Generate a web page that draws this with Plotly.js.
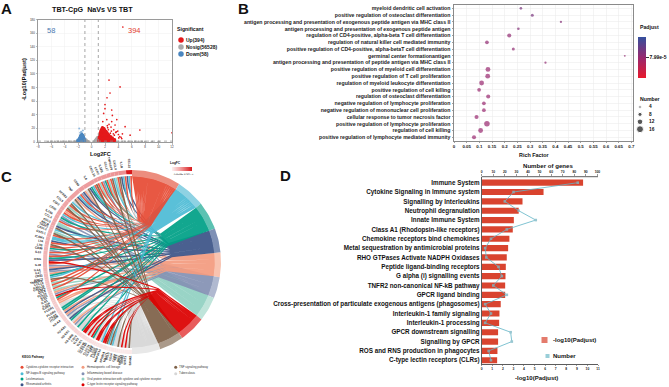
<!DOCTYPE html>
<html><head><meta charset="utf-8">
<script src="https://cdn.plot.ly/plotly-3.0.1.min.js"></script>
<style>html,body{margin:0;padding:0;background:#fff}#c{width:669px;height:387px}</style></head>
<body><div id="c"></div>
<script>
// ---------- Panel A data ----------
const upX=[1.05,1.2,1.35,1.5,1.7,1.85,2.05,2.2,2.4,2.6,2.8,3.0,3.2,3.45,1.1,1.25,1.4,1.6,1.75,1.95,2.1,2.3,2.5,2.7,2.95,3.15,3.4,1.1,1.3,1.45,1.65,1.8,2.0,2.2,2.35,2.55,2.8,3.05,1.15,1.35,1.5,1.7,1.85,2.05,2.25,2.45,2.7,2.9,1.2,1.4,1.55,1.75,1.95,2.15,2.4,2.6,1.25,1.45,1.6,1.8,2.0,2.25,2.45,1.3,1.5,1.65,1.85,2.1,2.3,1.35,1.5,1.7,1.9,2.15,1.45,1.6,1.8,1.95,1.55,1.65,1.85,1.62];
const upY=[1.7,2.2,1.5,2.1,1.6,2.4,1.8,2.2,1.5,2.3,1.7,2.0,1.6,1.9,3.8,4.2,3.5,4.4,3.9,4.1,3.6,4.3,3.8,4.1,3.6,4.2,3.7,5.8,6.3,5.6,6.1,5.9,6.4,5.7,6.2,5.9,6.0,5.6,8.1,7.8,8.4,7.9,8.3,7.7,8.2,7.9,8.1,7.7,10.2,9.8,10.4,10.0,9.7,10.3,9.9,10.1,12.1,11.8,12.4,12.0,11.7,12.2,11.9,14.2,13.8,14.3,14.0,13.9,14.1,16.1,15.8,16.3,15.9,16.0,18.1,17.8,18.2,17.9,19.6,20.4,19.8,21.5];
const upOutX=[2.6,4.25,2.75,2.3,2.0,2.0,3.0,1.8,3.1,2.27,3.76,3.0,1.67,3.5,5.0,7.2,5.75,4.5,4.66,3.3,3.6,2.6,2.9,3.9,4.2,4.6,3.2,2.5,4.0,3.4,2.8,3.7,2.4,3.1,4.4,3.55,2.95,3.25,2.35,4.05,12];
const upOutY=[91,81,72,65,55,49,47,42,39,33,33,30,30,25,22.5,17.6,10,5,169,18,14,26,22,16,8,12,7,18,11,10,13,15,21,5,7,4,16,12,24,6,13.6];
const nsX=[-6.5,-6,-5.5,-5,-4.6,-4.2,-3.8,-3.4,-3,-2.6,-2.3,-2,-1.7,-1.4,-1.15,-0.95,-0.85,-0.75,-0.65,-0.55,-0.45,-0.35,-0.9,-0.8,-0.7,-0.6,-0.9,-0.8,0.35,0.45,0.55,0.65,0.75,0.85,0.95,0.5,0.6,0.7,0.8,0.9,0.65,0.75,0.85,0.95,0.8,0.9,3.6,4,4.5,5,5.5,6,6.5,7,7.5,8,9,10];
const nsY=[0.2,0.2,0.3,0.2,0.3,0.3,0.2,0.4,0.3,0.5,0.4,0.5,0.6,0.5,0.8,1,0.8,0.7,0.5,0.4,0.3,0.2,2.5,2.2,1.6,1.1,3.6,3.1,0.3,0.5,0.8,1,1.3,1.6,2,2.2,2.6,3,3.4,3.8,4.2,4.5,5,5.5,6.2,7,0.3,0.3,0.3,0.2,0.2,0.3,0.2,0.2,0.2,0.2,0.2,0.2];
const downX=[-1.05,-1.2,-1.35,-1.5,-1.65,-1.8,-1.95,-1.1,-1.25,-1.4,-1.55,-1.7,-1.85,-1.1,-1.3,-1.45,-1.6,-1.75,-1.9,-1.15,-1.35,-1.5,-1.65,-1.8,-1.2,-1.4,-1.55,-1.7,-1.3,-1.45,-1.6,-1.35,-1.5,-1.45,-1.05,-1.15,-1.3,-1.6,-1.85,-2.0,-2.15,-1.0,-1.75,-1.25,-1.55,-1.42,-1.72,-1.85,-1.5,-1.65,-1.2,-1.9,-1.38,-1.58,-1.28,-2.05,-1.12,-1.68];
const downY=[1.7,2.0,1.5,2.2,1.6,1.9,1.5,3.4,3.8,3.3,3.9,3.5,3.0,4.9,5.3,4.8,5.4,4.9,3.6,6.4,6.7,6.2,6.6,5.9,7.8,8.1,7.7,7.3,9,9.3,8.9,10.4,10.6,11.6,2.8,5.6,4.4,2.8,2.3,2.5,1.6,1.4,6.9,7.1,5.2,7.0,4.4,4.7,12.5,9.8,2.4,2.0,1.8,1.4,9.6,3.2,3.0,8.6];
const downOutX=[-1.85,-1.55,-1.3,-1.7];
const downOutY=[20,15,17,13.5];
const volcanoLegend=['Up(394)','Nosig(56528)','Down(58)'];

// ---------- Panel B data ----------
const goTerms=['myeloid dendritic cell activation','positive regulation of osteoclast differentiation','antigen processing and presentation of exogenous peptide antigen via MHC class II','antigen processing and presentation of exogenous peptide antigen','regulation of CD4-positive, alpha-beta T cell differentiation','regulation of natural killer cell mediated immunity','positive regulation of CD4-positive, alpha-betaT cell differentiation','germinal center formationantigen','antigen processing and presentation of peptide antigen via MHC class II','positive regulation of myeloid cell differentiation','positive regulation of T cell proliferation','regulation of myeloid leukocyte differentiation','positive regulation of cell killing','regulation of osteoclast differentiation','negative regulation of lymphocyte proliferation','negative regulation of mononuclear cell proliferation','cellular response to tumor necrosis factor','positive regulation of lymphocyte proliferation','regulation of cell killing','positive regulation of lymphocyte mediated immunity'];
const richFactor=[0.264,0.309,0.422,0.254,0.218,0.13,0.234,0.674,0.361,0.134,0.133,0.109,0.099,0.135,0.118,0.118,0.089,0.13,0.105,0.079];
const goNumber=[4,5,3,4,8,7,5,2,3,10,10,10,7,8,7,7,8,12,10,8];
const goPadjust=[10.5e-5,10.5e-5,9.5e-5,9.5e-5,8.5e-5,8.5e-5,8.5e-5,8.5e-5,8.5e-5,8e-5,8e-5,8e-5,8e-5,8e-5,8e-5,8e-5,8e-5,8e-5,8e-5,8e-5];
const sizeLegend=[4,8,12,16];

// ---------- Panel C data ----------
const pathways=['Cytokine-cytokine receptor interaction','NF-kappa B signaling pathway','Leishmaniasis','Rheumatoid arthritis','Hematopoietic cell lineage','Inflammatory bowel disease','Viral protein interaction with cytokine and cytokine receptor','C-type lectin receptor signaling pathway','TNF signaling pathway','Tuberculosis'];
const pathwayDegrees=[32,18.6,18,15.4,15.6,13.4,15.7,17,15.9,18.4];
const genes=['CCL22','IL1B','CXCL9','TNFRSF9','CCL17','IL12B','CCR7','CXCL10','IL6','CD80','TNF','NFKB2','CCL5','CSF2','CD40','IL23A','CCL4','CCL3','RELB','TRAF1','CXCL2','CXCL1','ICAM1','LTA','LTB','CD86','IL10','IFNG','IL18','IL1A','IL27','CD83','BIRC3','TNFAIP3','CCL12','CXCL11','CXCL16','CCL7','CCL8','CCL24','CSF1','IL15','IL4I1','IL21R','IL2RA','FCGR1','FCGR4','ITGAX','ITGAM','H2-AA','H2-AB1','H2-EB1','H2-DMB','CD74','TLR2','TLR1','CLEC4E','CLEC4D','CLEC7A','CLEC4N','SYK','PLCG2','CARD9','MAP3K14','NFKBIA','MALT1','BCL3','CD14','CD69','FAS','IRF1','SOCS3','NOD2','STAT1','SPHK1'];
const geneLinks=[[0,1,3],[0,1,3,8],[0,6],[1,8],[0,6],[0,2,5],[0,6],[0,8],[0,1,2,3,8,9],[4,3,5],[0,1,3,4,8,9],[1,8],[0,6,8],[0,4],[0,1,5],[2,5],[0,6],[6,3],[8],[1],[6,8],[0,1],[1,3],[0,8],[0],[2,5],[0,5],[0,2,3,7],[0,5],[4,3],[5],[4,2],[1],[8],[0],[6],[0],[6],[0],[6],[4],[5],[7,2],[0],[4],[4,9],[9,2],[2],[4],[3,4,5,9],[3,2,9],[4,5,9],[2,9],[9],[2,7],[7,9],[7],[9],[7,2],[9],[7],[7],[9],[1,7],[7,8],[1],[8],[1,9],[9],[8],[9],[7],[9],[7,9],[8,9]];
const geneLogFC=[7,3.4,3.3,3.2,3.2,3.1,3.1,3.0,3.0,3.0,2.9,2.9,2.8,2.8,2.8,2.7,2.7,2.7,2.6,2.6,2.6,2.5,2.5,2.5,2.4,2.4,2.4,2.3,2.3,2.3,2.2,2.2,2.2,2.1,2.1,2.1,2,2,2,1.9,1.9,1.9,1.8,1.8,1.8,1.7,1.7,1.7,1.6,1.6,1.6,1.5,1.5,1.5,1.4,1.4,1.4,1.3,1.3,1.3,1.3,1.2,1.2,1.2,1.2,1.1,1.1,1.1,1.1,1.1,1.05,1.05,1.05,1.05,1.05];
const logFCTicks=[2,3,4,5,6,7];

// ---------- Panel D data ----------
const reactome=['Immune System','Cytokine Signaling in Immune system','Signalling by Interleukins','Neutrophil degranulation','Innate Immune System','Class A1 (Rhodopsin-like receptors)','Chemokine receptors bind chemokines','Metal sequestration by antimicrobial proteins','RHO GTPases Activate NADPH Oxidases','Peptide ligand-binding receptors','G alpha (i) signalling events','TNFR2 non-canonical NF-kB pathway','GPCR ligand binding','Cross-presentation of particulate exogenous antigens (phagosomes)','Interleukin-1 family signaling','Interleukin-1 processing','GPCR downstream signalling','Signalling by GPCR','ROS and RNS production in phagocytes','C-type lectin receptors (CLRs)'];
const logPadj=[9.59,5.85,3.86,3.5,3.04,2.94,2.62,2.5,2.37,2.28,2.25,2.22,2.22,1.8,1.68,1.65,1.55,1.55,1.49,1.46];
const geneCount=[83,27.5,20,32,46.7,21.7,8,3,4,14.5,17.4,10,21.7,3,8,3,25,26,6,8];

// ---------- Styles and geometry ----------
const W=669,H=387,FF='"Liberation Sans",Arial,sans-serif';
const xd=(a,b)=>[a/W,b/W], yd=(t,b)=>[1-b/H,1-t/H];
const colA={up:'#e41a1c',ns:'#a9a9a9',down:'#4a86c0'};
const pathCol=['#E64B35','#4DBBD5','#00A087','#3C5488','#F39B7F','#8491B4','#91D1C2','#DC0000','#7E6148','#d6d6d6'];
const pathTint=['#ec8d7e','#8ed2e3','#5cc2b2','#7e90b5','#f8c3b0','#b0b9d0','#bfe4da','#e85c5c','#ab9a8a','#e8e8e8'];
const hubs=[[.14,.42],[.17,.36],[.36,.24],[.43,.13],[.39,-.02],[.32,-.09],[.26,-.13],[.24,-.34],[.14,-.38],[.01,-.45]];
const CX=132,CY=262,RX=89,RY=92;
const rad=d=>d*Math.PI/180;
const pol=(deg,r)=>[r*Math.sin(rad(deg)),r*Math.cos(rad(deg))];
const f=(x,y,o={})=>({family:FF,size:x,color:y||'#111',weight:o.w===undefined?700:o.w});
const bubble=n=>1.2+0.36*n;

const traces=[],anns=[],shapes=[];
function ann(text,x,y,size,o={}){anns.push({text,x:x/W,y:1-y/H,xref:'paper',yref:'paper',xanchor:o.a||'left',yanchor:'middle',showarrow:false,
  font:f(size,o.c,{w:o.w}),textangle:o.ang||0,borderpad:0,borderwidth:0});}
// ---- A ----
traces.push({type:'scatter',mode:'markers',x:nsX,y:nsY,xaxis:'x',yaxis:'y',marker:{size:2.6,color:colA.ns},hoverinfo:'skip'});
traces.push({type:'scatter',mode:'markers',x:upX,y:upY,xaxis:'x',yaxis:'y',marker:{size:2.9,color:colA.up},hoverinfo:'skip'});
traces.push({type:'scatter',mode:'markers',x:upOutX,y:upOutY,xaxis:'x',yaxis:'y',marker:{size:1.7,color:colA.up},hoverinfo:'skip'});
traces.push({type:'scatter',mode:'markers',x:downX,y:downY,xaxis:'x',yaxis:'y',marker:{size:2.7,color:colA.down},hoverinfo:'skip'});
traces.push({type:'scatter',mode:'markers',x:downOutX,y:downOutY,xaxis:'x',yaxis:'y',marker:{size:2,color:'#8fb8dd'},hoverinfo:'skip'});
[-1,1].forEach(v=>shapes.push({type:'line',xref:'x',yref:'y domain',x0:v,x1:v,y0:0,y1:1,line:{color:'#8f8f8f',width:.8,dash:'dot'}}));
shapes.push({type:'line',xref:'x domain',yref:'y',x0:0,x1:1,y0:1.3,y1:1.3,line:{color:'#8f8f8f',width:.7,dash:'dot'}});
ann('TBT-CpG  NaVs VS TBT',92,9.7,7.2,{a:'center'});
ann('58',50.7,30,7.5,{a:'center',c:'#4a78b0',w:400});
ann('394',134,30,7.5,{a:'center',c:'#df3a2e',w:400});
ann('Log2FC',100,153.5,5.6,{a:'center'});
ann('-Log10(Padjust)',23.5,80,5.6,{a:'center',ang:-90});
ann('Significant',177,29,5.2);
volcanoLegend.forEach((t,i)=>ann(t,186,40+i*7,5));
traces.push({type:'scatter',mode:'markers',x:[181,181,181],y:[40,47,54],xaxis:'x8',yaxis:'y8',marker:{size:5.5,color:[colA.up,colA.ns,colA.down]},hoverinfo:'skip'});
// ---- B ----
traces.push({type:'scatter',mode:'markers',x:richFactor,y:goTerms,xaxis:'x2',yaxis:'y2',hoverinfo:'skip',
  marker:{size:goNumber.map(bubble),color:goPadjust,cmin:0,cmax:16e-5,colorscale:[[0,'#e8192c'],[.5,'#98286f'],[1,'#34509e']],line:{width:0},
    showscale:true,colorbar:{x:638.3/W,xanchor:'left',y:1-37/H,yanchor:'top',len:40.7/H,lenmode:'fraction',thickness:8,thicknessmode:'pixels',xpad:0,ypad:0,outlinewidth:0,
    tickmode:'array',tickvals:[7.99e-5],ticktext:['7.99e-5'],ticks:'outside',ticklen:3,tickcolor:'#333',tickfont:f(5),title:{text:''}}}});
ann('Padjust',640,27,5.2);
ann('Number',640,98.5,5.2);
ann('Rich Factor',534,154.5,5.4,{a:'center'});
sizeLegend.forEach((n,i)=>ann(String(n),649,107+i*7.4,4.8,{w:700}));
traces.push({type:'scatter',mode:'markers',x:sizeLegend.map(()=>640),y:sizeLegend.map((n,i)=>107+i*7.4),xaxis:'x8',yaxis:'y8',
  marker:{size:sizeLegend.map(bubble),color:'#111'},hoverinfo:'skip'});
// ---- C ----
const nLinks=geneLinks.reduce((s,l)=>s+l.length,0);
const unit=180/nLinks;
const counts=pathways.map((_,p)=>geneLinks.reduce((s,l)=>s+l.filter(v=>v===p).length,0));
let pStart=[],acc=0;pathwayDegrees.forEach(d=>{pStart.push(acc);acc+=d;});
const seen=pathways.map(()=>0);
const polys=pathways.map(()=>({x:[],y:[]}));
const quad=(a,c,b,t)=>[(1-t)*(1-t)*a[0]+2*t*(1-t)*c[0]+t*t*b[0],(1-t)*(1-t)*a[1]+2*t*(1-t)*c[1]+t*t*b[1]];
const cub=(a,c,d,b,t)=>{const u=1-t;return [0,1].map(i=>u*u*u*a[i]+3*u*u*t*c[i]+3*u*t*t*d[i]+t*t*t*b[i]);};
function edge(p,fr,degP,degG){
  const P=pol(degP,.935),G=pol(degG,.935),tip=hubs[p];
  const m=pol(pStart[p]+pathwayDegrees[p]/2,1), tan=[m[1],-m[0]];
  const Hb=[tip[0]+tan[0]*(fr-.5)*.16,tip[1]+tan[1]*(fr-.5)*.16];
  const pts=[],C1=[(P[0]+Hb[0])/2+m[0]*.04,(P[1]+Hb[1])/2+m[1]*.04],Ca=[G[0]*.6,G[1]*.6],Cb=[G[0]*.88,G[1]*.88];
  for(let i=0;i<=8;i++)pts.push(quad(P,C1,Hb,i/8));
  for(let i=1;i<=18;i++)pts.push(cub(Hb,Ca,Cb,G,i/18));
  return pts;
}
let gAng=360;
const geneSpan=[];
geneLinks.forEach((l,gi)=>{
  const g0=gAng,g1=gAng-unit*l.length;geneSpan.push([g0,g1]);
  l.forEach((p,k)=>{
    const w=pathwayDegrees[p]/counts[p];
    const s=pStart[p]+seen[p]*w,e=s+w,frS=seen[p]/counts[p],frE=(seen[p]+1)/counts[p];seen[p]++;
    const ga=g0-unit*k-.05,gb=g0-unit*(k+1)+.05;
    const A=edge(p,frS,s,ga),B=edge(p,frE,e,gb).reverse();
    A.concat(B).forEach(q=>{polys[p].x.push(q[0]);polys[p].y.push(q[1]);});
    polys[p].x.push(A[0][0],null);polys[p].y.push(A[0][1],null);
  });
  gAng=g1;
});
const arcPoly=(a,b,r0,r1)=>{const xs=[],ys=[],n=Math.max(3,Math.ceil(Math.abs(b-a)/1.5));
  for(let i=0;i<=n;i++){const q=pol(a+(b-a)*i/n,r1);xs.push(q[0]);ys.push(q[1]);}
  for(let i=n;i>=0;i--){const q=pol(a+(b-a)*i/n,r0);xs.push(q[0]);ys.push(q[1]);}
  xs.push(xs[0]);ys.push(ys[0]);return [xs,ys];};
[9,6,5,4,3,2,1,0,8,7].forEach(p=>traces.push({type:'scatter',mode:'lines',x:polys[p].x,y:polys[p].y,xaxis:'x7',yaxis:'y7',fill:'toself',fillcolor:pathCol[p],line:{width:0,color:pathCol[p]},hoverinfo:'skip',opacity:.93}));
pathways.forEach((_,p)=>{const [xs,ys]=arcPoly(pStart[p],pStart[p]+pathwayDegrees[p],.93,1);
  traces.push({type:'scatter',mode:'lines',x:xs,y:ys,xaxis:'x7',yaxis:'y7',fill:'toself',fillcolor:pathTint[p],line:{width:0,color:pathTint[p]},hoverinfo:'skip'});});
const fcColor=v=>{const t=Math.min(1,Math.max(0,(v-1)/6)),s=Math.pow(t,.9);
  const a=[250,236,236],b=[215,25,28];return 'rgb('+a.map((c,i)=>Math.round(c+(b[i]-c)*s)).join(',')+')';};
genes.forEach((g,i)=>{const [a,b]=geneSpan[i];const [xs,ys]=arcPoly(a,b,.955,1);
  traces.push({type:'scatter',mode:'lines',x:xs,y:ys,xaxis:'x7',yaxis:'y7',fill:'toself',fillcolor:fcColor(geneLogFC[i]),line:{width:0,color:'#fff'},hoverinfo:'skip'});
  const mid=(a+b)/2,off=1.02+g.length*.0105,q=pol(mid,off);
  anns.push({text:g,x:q[0],y:q[1],xref:'x7',yref:'y7',xanchor:'center',yanchor:'middle',showarrow:false,textangle:mid-270,font:f(3,'#222',{w:700}),borderpad:0});
});
// logFC scale
traces.push({type:'scatter',mode:'markers',x:[0,0],y:[0,0],xaxis:'x8',yaxis:'y8',hoverinfo:'skip',
  marker:{size:.01,opacity:0,color:[1,7],cmin:1,cmax:7,colorscale:[[0,'#fdf0f0'],[.4,'#f4a5a5'],[1,'#d7191c']],showscale:true,
   colorbar:{orientation:'h',x:171.7/W,xanchor:'left',y:1-167.3/H,yanchor:'top',len:20/W,lenmode:'fraction',thickness:3.7,thicknessmode:'pixels',xpad:0,ypad:0,outlinewidth:0,
   tickmode:'array',tickvals:logFCTicks,ticktext:logFCTicks.map(String),ticks:'',ticklen:0,tickfont:f(2.8,'#333',{w:400}),title:{text:''}}}});
ann('LogFC',170,163,3.2);
ann('KEGG Pathway',22,357,3);
const legendCols=[[0,22,367.3],[1,22,373.7],[2,22,379],[3,22,384.7],[4,83,367.3],[5,83,373.7],[6,83,379],[7,83,384.7],[8,175.7,367.3],[9,175.7,373.7]];
traces.push({type:'scatter',mode:'markers',x:legendCols.map(r=>r[1]),y:legendCols.map(r=>r[2]),xaxis:'x8',yaxis:'y8',marker:{size:3,color:legendCols.map(r=>pathCol[r[0]])},hoverinfo:'skip'});
legendCols.forEach(r=>ann(pathways[r[0]],r[1]+3.5,r[2]-.3,2.85,{w:400,c:'#333'}));
// ---- D ----
traces.push({type:'bar',orientation:'h',x:logPadj,y:reactome,xaxis:'x5',yaxis:'y5',marker:{color:'#d9442f',line:{width:0}},width:.66,hoverinfo:'skip'});
traces.push({type:'scatter',mode:'lines+markers',x:geneCount,y:reactome,xaxis:'x6',yaxis:'y5',line:{color:'#62b6c8',width:1},marker:{size:2.6,color:'#7fb9c6',symbol:'square'},opacity:.8,hoverinfo:'skip'});
ann('Number of genes',547.7,166,6.1,{a:'center'});
ann('-log10(Padjust)',536.7,378,6,{a:'center'});
ann('-log10(Padjust)',553,340,6);
ann('Number',553,356,6);
traces.push({type:'scatter',mode:'markers',x:[544.5,547.5],y:[340,356],xaxis:'x8',yaxis:'y8',marker:{symbol:'square',size:[7,5],color:['#d9442f','#6fbac8']},hoverinfo:'skip'});
// letters
ann('A',1,8.5,15);ann('B',237.5,8.5,15);ann('C',1,176,15);ann('D',279.5,175,15);

const ax={
 xaxis:{domain:xd(38,172),anchor:'y',range:[-8,12],dtick:2,tick0:-8,showgrid:true,gridcolor:'#efefef',gridwidth:.5,zeroline:false,showline:true,mirror:true,linecolor:'#9a9a9a',linewidth:1,ticks:'outside',ticklen:1.5,tickwidth:.5,tickcolor:'#777',tickfont:f(3,'#333',{w:400})},
 yaxis:{domain:yd(19.5,142),anchor:'x',range:[0,180],dtick:20,showgrid:true,gridcolor:'#efefef',gridwidth:.5,zeroline:false,showline:true,mirror:true,linecolor:'#9a9a9a',linewidth:1,ticks:'outside',ticklen:1.5,tickwidth:.5,tickcolor:'#777',tickfont:f(3,'#333',{w:400})},
 xaxis2:{domain:xd(454,633),anchor:'y2',range:[0,0.7064],tickmode:'array',tickvals:[0,.05,.1,.15,.2,.25,.3,.35,.4,.45,.5,.55,.6,.65,.7],ticktext:['0','0.05','0.1','0.15','0.2','0.25','0.3','0.35','0.4','0.45','0.5','0.55','0.6','0.65','0.7'],showgrid:true,gridcolor:'#e9e9e9',gridwidth:.5,zeroline:false,showline:true,mirror:true,linecolor:'#8a8a8a',linewidth:1,ticks:'outside',ticklen:1.5,tickwidth:.5,tickcolor:'#444',tickfont:f(4.4,'#222')},
 yaxis2:{domain:yd(5.3,140.7),anchor:'x2',type:'category',categoryorder:'array',categoryarray:goTerms,range:[19.5,-.45],showgrid:true,gridcolor:'#e9e9e9',gridwidth:.5,zeroline:false,showline:true,mirror:true,linecolor:'#8a8a8a',linewidth:1,ticks:'outside',ticklen:1.5,tickwidth:.5,tickcolor:'#444',tickfont:f(5.2,'#222'),automargin:false},
 xaxis5:{domain:xd(481.7,598),anchor:'y5',range:[0,11],dtick:1,showgrid:false,zeroline:false,showline:true,linecolor:'#333',linewidth:.8,ticks:'outside',ticklen:1.5,tickwidth:.5,tickcolor:'#333',tickfont:f(3.3,'#222')},
 xaxis6:{domain:xd(481.7,598),anchor:'y5',overlaying:'x5',side:'top',range:[0,100.5],dtick:10,showgrid:false,zeroline:false,showline:false,ticks:'outside',ticklen:1.5,tickwidth:.5,tickcolor:'#333',tickfont:f(3.3,'#222')},
 yaxis5:{domain:yd(176.7,364),anchor:'x5',type:'category',categoryorder:'array',categoryarray:reactome,range:[19.4,-.64],showgrid:false,zeroline:false,showline:true,linecolor:'#333',linewidth:.8,ticks:'',tickfont:f(6.3,'#111'),automargin:false},
 xaxis7:{domain:xd(30,232),anchor:'y7',range:[(30-CX)/RX,(232-CX)/RX],visible:false,fixedrange:true},
 yaxis7:{domain:yd(160,362),anchor:'x7',range:[(CY-362)/RY,(CY-160)/RY],visible:false,fixedrange:true},
 xaxis8:{domain:[0,1],anchor:'y8',range:[0,W],visible:false,fixedrange:true},
 yaxis8:{domain:[0,1],anchor:'x8',range:[H,0],visible:false,fixedrange:true}
};
shapes.push({type:'line',xref:'x5 domain',yref:'paper',x0:0,x1:1,y0:1-176.7/H,y1:1-176.7/H,line:{color:'#333',width:.8}});

Plotly.newPlot('c',traces,Object.assign({width:W,height:H,margin:{l:0,r:0,t:0,b:0,pad:0},paper_bgcolor:'#fff',plot_bgcolor:'rgba(0,0,0,0)',showlegend:false,bargap:.34,font:{family:FF},annotations:anns,shapes:shapes},ax),{displayModeBar:false,staticPlot:true});
</script></body></html>
